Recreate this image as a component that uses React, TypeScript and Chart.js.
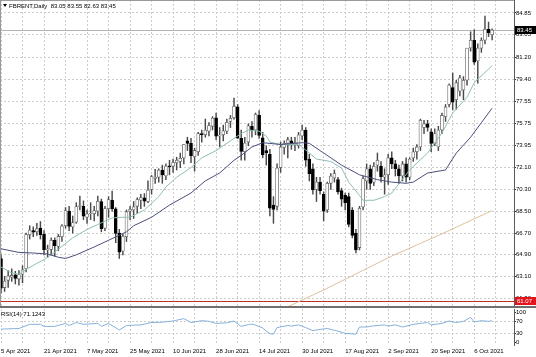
import React, { useEffect, useRef } from 'react';
import { Chart, registerables } from 'chart.js';

Chart.register(...registerables);

const FONT = '"Liberation Sans", Arial, sans-serif';

// ---- categories / tick labels ----
const dateLabels = ['5 Apr 2021', '21 Apr 2021', '7 May 2021', '25 May 2021', '10 Jun 2021', '28 Jun 2021', '14 Jul 2021', '30 Jul 2021', '17 Aug 2021', '2 Sep 2021', '20 Sep 2021', '6 Oct 2021'];
const LABEL_EVERY = 12;
const GRID_EVERY = 6;
const priceTicks = [61.3, 63.1, 64.9, 66.7, 68.5, 70.3, 72.1, 73.95, 75.75, 77.55, 79.4, 81.2, 83.05, 84.85];
const rsiTicks = [0, 30, 70, 100];

// ---- daily OHLC (5 Apr 2021 .. 13 Oct 2021) ----
const opens = [64.6, 62.2, 62.8, 63.05, 63.25, 62.9, 63.3, 63.75, 66.55, 66.9, 66.8, 67.1, 66.6, 65.3, 65.35, 66.1, 65.6, 66.4, 67.3, 68.5, 67.2, 67.6, 68.9, 68.9, 68.0, 68.3, 68.3, 68.5, 69.3, 67.1, 68.7, 69.4, 68.7, 66.7, 65.2, 66.4, 68.5, 68.6, 68.9, 69.4, 69.6, 69.3, 70.3, 71.2, 71.3, 71.9, 71.4, 72.25, 72.2, 72.5, 72.6, 72.9, 74.3, 74.1, 73.0, 73.4, 74.9, 74.8, 75.1, 75.5, 76.2, 74.7, 74.8, 75.1, 75.9, 76.2, 77.1, 74.5, 73.4, 74.2, 75.5, 75.2, 76.4, 74.55, 73.5, 73.2, 69.0, 68.9, 72.1, 73.75, 74.1, 74.3, 74.0, 73.9, 74.7, 75.2, 72.8, 72.0, 70.3, 70.9, 69.9, 68.6, 70.8, 71.25, 71.1, 70.2, 69.8, 69.7, 68.6, 66.7, 65.5, 68.85, 71.0, 72.0, 70.9, 72.3, 72.2, 71.3, 71.5, 72.9, 72.4, 72.0, 71.4, 72.4, 71.3, 72.9, 73.4, 73.8, 75.4, 75.7, 75.05, 74.1, 73.8, 75.2, 76.3, 77.3, 78.7, 77.7, 78.4, 78.5, 79.3, 81.96, 82.6, 80.9, 81.95, 82.6, 83.5, 83.05];
const highs = [64.92, 63.12, 63.6, 63.75, 63.55, 63.6, 64.0, 66.7, 67.3, 67.2, 67.5, 67.65, 66.9, 65.7, 66.3, 66.3, 66.6, 67.4, 68.8, 68.9, 68.1, 69.2, 69.75, 69.35, 68.6, 69.2, 68.9, 69.75, 69.5, 68.9, 69.7, 70.15, 68.8, 67.0, 66.6, 68.6, 68.9, 69.3, 69.6, 69.9, 69.95, 71.0, 71.45, 71.95, 72.0, 72.3, 72.4, 72.7, 72.8, 72.95, 73.3, 74.0, 74.6, 74.5, 73.7, 75.0, 75.2, 76.1, 75.8, 76.3, 76.6, 75.4, 75.6, 76.1, 76.4, 77.84, 77.3, 75.2, 74.6, 75.7, 75.9, 76.6, 76.8, 75.0, 73.9, 73.6, 69.7, 72.4, 74.2, 74.3, 74.6, 74.6, 74.6, 75.0, 75.6, 75.4, 73.2, 72.4, 71.3, 71.3, 70.1, 70.9, 71.6, 71.9, 71.3, 70.4, 70.0, 70.0, 68.8, 67.0, 68.9, 71.4, 72.4, 72.3, 72.5, 73.3, 72.6, 72.0, 73.2, 73.4, 72.7, 72.3, 72.6, 72.9, 72.9, 73.7, 74.0, 76.1, 76.0, 76.0, 75.3, 75.3, 75.5, 76.6, 77.3, 79.0, 79.9, 79.3, 79.7, 79.6, 81.5, 83.3, 83.45, 82.3, 82.8, 84.6, 84.1, 83.55];
const lows = [61.75, 61.88, 62.22, 62.7, 62.5, 62.4, 62.6, 63.5, 66.2, 66.4, 66.5, 66.2, 64.9, 64.7, 64.9, 64.8, 65.25, 66.0, 67.1, 66.9, 66.7, 67.5, 68.6, 67.8, 67.5, 67.8, 67.7, 68.1, 66.8, 66.9, 68.0, 68.5, 65.9, 64.6, 64.9, 66.0, 67.8, 67.9, 68.3, 68.7, 68.9, 69.2, 69.9, 70.8, 70.9, 70.8, 71.1, 71.5, 71.7, 71.9, 72.1, 72.4, 73.5, 72.5, 71.8, 73.1, 74.2, 74.6, 74.7, 75.2, 74.4, 73.8, 74.3, 74.9, 75.4, 76.1, 74.5, 72.7, 72.7, 73.9, 74.6, 74.8, 74.5, 72.9, 72.3, 68.1, 67.5, 68.6, 71.7, 73.2, 72.9, 73.6, 73.5, 73.7, 74.4, 72.2, 71.0, 69.9, 69.3, 69.9, 67.7, 68.4, 70.3, 70.9, 69.9, 68.9, 68.6, 67.2, 66.3, 65.05, 65.3, 68.6, 70.3, 70.3, 70.6, 71.8, 70.9, 69.9, 70.7, 72.0, 71.4, 70.8, 71.0, 70.9, 71.1, 72.6, 72.8, 73.5, 74.9, 75.1, 73.4, 73.9, 73.5, 74.9, 75.9, 77.1, 76.85, 76.9, 78.0, 77.7, 78.9, 81.7, 80.6, 79.05, 81.6, 82.3, 82.9, 82.63];
const closes = [62.15, 62.74, 63.16, 63.2, 62.95, 63.28, 63.67, 66.58, 66.94, 66.77, 67.05, 66.57, 65.32, 65.4, 66.11, 65.65, 66.42, 67.27, 68.56, 67.25, 67.56, 68.88, 68.96, 68.09, 68.28, 68.32, 68.55, 69.32, 67.05, 68.71, 69.46, 68.71, 66.66, 65.11, 66.44, 68.46, 68.65, 68.87, 69.46, 69.63, 69.32, 70.25, 71.35, 71.31, 71.89, 71.49, 72.22, 72.15, 72.52, 72.69, 72.86, 73.99, 74.1, 73.08, 73.51, 74.9, 74.81, 75.19, 75.56, 76.18, 74.68, 74.76, 75.13, 75.84, 76.17, 77.16, 74.53, 73.43, 74.12, 75.55, 75.16, 76.49, 74.76, 73.15, 73.3, 68.75, 68.65, 72.05, 73.8, 74.1, 74.4, 74.1, 74.15, 74.8, 75.2, 72.7, 71.6, 70.25, 70.9, 70.2, 68.5, 70.8, 71.4, 71.6, 70.1, 69.5, 69.2, 67.4, 66.5, 65.3, 68.75, 71.2, 72.0, 70.8, 72.2, 72.7, 71.35, 71.5, 72.9, 72.4, 72.0, 71.4, 72.4, 71.3, 72.8, 73.4, 73.8, 76.0, 75.7, 75.4, 74.1, 74.9, 75.2, 76.4, 77.1, 78.9, 77.5, 79.1, 79.5, 79.3, 81.96, 82.6, 80.8, 81.95, 82.6, 83.5, 83.2, 83.45];

// ---- indicator lines (bar index -> value) ----
const maFastBars = [0, 3, 5, 7, 10, 12, 14, 17, 20, 24, 27, 31, 34, 36, 40, 44, 46, 49, 53, 56, 60, 64, 67, 69, 72, 74, 75, 78, 83, 85, 88, 92, 95, 97, 100, 101, 104, 107, 109, 114, 119, 123, 126, 130, 132, 137];
const maFastValues = [63.9, 63.4, 63.3, 63.7, 64.2, 64.5, 64.9, 65.6, 66.3, 67.0, 67.4, 67.95, 68.0, 68.0, 68.6, 69.7, 70.5, 71.3, 72.1, 72.9, 73.5, 74.3, 74.9, 75.2, 75.1, 74.7, 74.2, 74.0, 74.0, 73.55, 72.8, 72.6, 72.05, 70.9, 69.8, 69.4, 69.4, 69.7, 70.0, 71.9, 73.3, 74.95, 76.6, 77.9, 79.1, 80.5];
const maSlowBars = [0, 5, 9, 13, 16, 18, 21, 26, 30, 35, 37, 42, 47, 53, 57, 61, 65, 67, 70, 73, 78, 84, 86, 90, 95, 100, 105, 109, 113, 115, 119, 124, 127, 131, 134, 137];
const maSlowValues = [65.4, 65.1, 65.05, 64.97, 64.7, 64.6, 64.9, 65.55, 66.1, 66.8, 67.3, 68.0, 69.0, 70.0, 71.0, 71.65, 72.7, 73.1, 73.8, 74.15, 74.0, 74.15, 74.1, 73.3, 72.3, 71.5, 71.1, 70.9, 70.8, 70.9, 71.65, 71.9, 73.3, 74.6, 75.8, 77.0];
const maLongBars = [75, 80, 90, 109, 122, 137];
const maLongValues = [60.0, 60.62, 62.0, 64.8, 66.5, 68.55];
const rsiBars = [0, 5, 8, 11, 12, 15, 18, 19, 21, 23, 27, 28, 30, 33, 35, 39, 42, 45, 48, 51, 53, 56, 58, 60, 63, 65, 67, 69, 70, 71, 73, 74, 75, 76, 77, 80, 81, 83, 85, 87, 89, 91, 94, 96, 99, 100, 102, 104, 107, 108, 110, 112, 115, 117, 119, 120, 123, 125, 127, 129, 131, 132, 134, 136, 137];
const rsiValues = [43, 45, 59, 59, 52, 52, 62, 55, 65, 59, 62, 52, 62, 40, 55, 57, 65, 66, 70, 78, 65, 71, 69, 62, 64, 70, 52, 58, 60, 56, 47, 36, 28, 26, 48, 55, 53, 57, 48, 38, 42, 45, 36, 29, 26, 50, 50, 54, 57, 53, 57, 50, 59, 62, 65, 57, 62, 70, 65, 69, 82, 67, 71, 69, 71];

const lastPrice = 83.45;
const alertLevel = 61.07;
const headerText = 'FBRENT,Daily  83.05 83.55 82.63 83.45';
const rsiText = 'RSI(14) 71.1243';

// ---- view ranges ----
const X_MIN = -0.28;
const X_MAX = 143.1;
const P_MIN = 60.68;
const P_MAX = 85.92;
const R_MIN = -10;
const R_MAX = 110;

const GRID_COLOR = '#cdcdcd';
const AXIS_COLOR = '#5a5a5a';

function xTicks() {
  const t: { value: number }[] = [];
  for (let v = 0; v <= X_MAX; v += GRID_EVERY) t.push({ value: v });
  return t;
}

function xScale(showLabels: boolean) {
  return {
    type: 'linear',
    min: X_MIN,
    max: X_MAX,
    offset: false,
    afterBuildTicks: (s: any) => { s.ticks = xTicks(); },
    afterFit: (s: any) => { s.height = showLabels ? 12 : 0; s.paddingLeft = 0; s.paddingRight = 0; },
    grid: { color: GRID_COLOR, lineWidth: 1, drawTicks: false, offset: false },
    border: { display: false, dash: [2, 2] },
    ticks: {
      display: showLabels,
      autoSkip: false,
      maxRotation: 0,
      minRotation: 0,
      align: 'start',
      padding: 3,
      color: '#000',
      font: { family: FONT, size: 6 },
      callback: (v: number) => (v % LABEL_EVERY === 0 ? dateLabels[v / LABEL_EVERY] || '' : ''),
    },
  };
}

function yAxisCommon(ticks: number[], min: number, max: number, fmt: (v: number) => string, gridColor: any) {
  return {
    type: 'linear',
    position: 'right',
    min,
    max,
    afterBuildTicks: (s: any) => { s.ticks = ticks.map((v) => ({ value: v })); },
    afterFit: (s: any) => { s.width = 22; s.paddingTop = 0; s.paddingBottom = 0; },
    grid: { color: gridColor, lineWidth: 1, drawTicks: true, tickLength: 2, tickColor: '#333', tickBorderDash: [] },
    border: { display: true, color: AXIS_COLOR, width: 1, dash: [2, 2] },
    ticks: { padding: 0, color: '#000', font: { family: FONT, size: 6 }, callback: (v: number) => fmt(v) },
  };
}

function valueBox(ctx: CanvasRenderingContext2D, x: number, y: number, w: number, bg: string, text: string) {
  ctx.fillStyle = bg;
  ctx.fillRect(x, Math.round(y) - 4, w, 8);
  ctx.fillStyle = '#fff';
  ctx.font = `6px ${FONT}`;
  ctx.textBaseline = 'middle';
  ctx.textAlign = 'left';
  ctx.fillText(text, x + 2, Math.round(y) + 0.5);
}

const mainOverlay = {
  id: 'mainOverlay',
  beforeDatasetsDraw(chart: any) {
    const { ctx, chartArea, scales } = chart;
    const ys = scales.y;
    ctx.save();
    ctx.lineWidth = 1;
    const yb = Math.round(ys.getPixelForValue(lastPrice)) + 0.5;
    ctx.strokeStyle = '#b4b4b4';
    ctx.beginPath();
    ctx.moveTo(chartArea.left, yb);
    ctx.lineTo(chartArea.right, yb);
    ctx.stroke();
    const yr = Math.round(ys.getPixelForValue(alertLevel)) + 0.5;
    ctx.strokeStyle = '#c0302a';
    ctx.beginPath();
    ctx.moveTo(chartArea.left, yr);
    ctx.lineTo(chartArea.right, yr);
    ctx.stroke();
    ctx.restore();
  },
  afterDraw(chart: any) {
    const { ctx, chartArea, scales } = chart;
    const ys = scales.y;
    ctx.save();
    valueBox(ctx, chartArea.right + 1, ys.getPixelForValue(lastPrice), 21, '#000', lastPrice.toFixed(2));
    valueBox(ctx, chartArea.right + 1, ys.getPixelForValue(alertLevel), 21, '#e3121b', alertLevel.toFixed(2));
    // frame
    ctx.strokeStyle = '#9a9a9a';
    ctx.lineWidth = 1;
    ctx.beginPath();
    ctx.moveTo(0, 0.5);
    ctx.lineTo(chartArea.right, 0.5);
    ctx.moveTo(0.5, 0);
    ctx.lineTo(0.5, chartArea.bottom);
    ctx.stroke();
    // header
    ctx.fillStyle = '#000';
    ctx.beginPath();
    ctx.moveTo(3, 4);
    ctx.lineTo(7, 4);
    ctx.lineTo(5, 7);
    ctx.closePath();
    ctx.fill();
    ctx.font = `6px ${FONT}`;
    ctx.textBaseline = 'middle';
    ctx.textAlign = 'left';
    ctx.fillText(headerText, 9, 6);
    ctx.restore();
  },
};

const rsiOverlay = {
  id: 'rsiOverlay',
  afterDraw(chart: any) {
    const { ctx } = chart;
    ctx.save();
    ctx.fillStyle = '#6f6f6f';
    ctx.fillRect(0, 0, chart.width, 2);
    ctx.fillStyle = '#000';
    ctx.font = `6px ${FONT}`;
    ctx.textBaseline = 'middle';
    ctx.textAlign = 'left';
    ctx.fillText(rsiText, 1, 8);
    ctx.restore();
  },
};

function mainConfig(): any {
  const bars = opens.map((_, i) => i);
  const bull = (i: number) => closes[i] >= opens[i];
  return {
    type: 'bar',
    data: {
      datasets: [
        {
          type: 'line', label: 'MA long',
          data: maLongBars.map((b, k) => ({ x: b, y: maLongValues[k] })),
          borderColor: '#dcc09a', borderWidth: 1, pointRadius: 0, order: 1,
        },
        {
          type: 'line', label: 'MA slow',
          data: maSlowBars.map((b, k) => ({ x: b, y: maSlowValues[k] })),
          borderColor: '#4c4f7c', borderWidth: 1, pointRadius: 0, order: 1,
        },
        {
          type: 'line', label: 'MA fast',
          data: maFastBars.map((b, k) => ({ x: b, y: maFastValues[k] })),
          borderColor: '#8fbdb5', borderWidth: 1, pointRadius: 0, order: 1,
        },
        {
          type: 'bar', label: 'wick',
          data: bars.map((i) => ({ x: i, y: [lows[i], highs[i]] })),
          backgroundColor: '#4a4a4a', borderWidth: 0, barThickness: 0.8, grouped: false, order: 3,
        },
        {
          type: 'bar', label: 'body',
          data: bars.map((i) => ({ x: i, y: [opens[i], closes[i]] })),
          backgroundColor: bars.map((i) => (bull(i) ? '#ffffff' : '#000000')),
          borderColor: bars.map((i) => (bull(i) ? '#6a6a6a' : '#000000')),
          borderWidth: 0.8, borderSkipped: false, barThickness: 3, grouped: false, order: 2,
        },
      ],
    },
    options: {
      responsive: false,
      animation: false,
      devicePixelRatio: 1,
      events: [],
      layout: { padding: 0 },
      plugins: { legend: { display: false }, tooltip: { enabled: false } },
      scales: {
        x: xScale(false),
        y: yAxisCommon(priceTicks, P_MIN, P_MAX, (v) => v.toFixed(2), GRID_COLOR),
      },
    },
    plugins: [mainOverlay],
  };
}

function rsiConfig(): any {
  return {
    type: 'line',
    data: {
      datasets: [
        {
          label: 'RSI',
          data: rsiBars.map((b, k) => ({ x: b, y: rsiValues[k] })),
          borderColor: '#86b0dc', borderWidth: 1, pointRadius: 0,
        },
      ],
    },
    options: {
      responsive: false,
      animation: false,
      devicePixelRatio: 1,
      events: [],
      layout: { padding: { top: 3, left: 0, right: 0, bottom: 0 } },
      plugins: { legend: { display: false }, tooltip: { enabled: false } },
      scales: {
        x: xScale(true),
        y: yAxisCommon(rsiTicks, R_MIN, R_MAX, (v) => String(v), (c: any) => (c.tick && (c.tick.value === 70 || c.tick.value === 30) ? GRID_COLOR : 'rgba(0,0,0,0)')),
      },
    },
    plugins: [rsiOverlay],
  };
}

export default function App() {
  const mainRef = useRef<HTMLCanvasElement>(null);
  const rsiRef = useRef<HTMLCanvasElement>(null);
  useEffect(() => {
    const c1 = new Chart(mainRef.current as HTMLCanvasElement, mainConfig());
    const c2 = new Chart(rsiRef.current as HTMLCanvasElement, rsiConfig());
    return () => {
      c1.destroy();
      c2.destroy();
    };
  }, []);
  return (
    <div style={{ position: 'fixed', left: 0, top: 0, width: 536, height: 357, background: '#fff', overflow: 'hidden' }}>
      <canvas ref={mainRef} width={536} height={306} style={{ position: 'absolute', left: 0, top: 0, width: 536, height: 306 }} />
      <canvas ref={rsiRef} width={536} height={51} style={{ position: 'absolute', left: 0, top: 306, width: 536, height: 51 }} />
    </div>
  );
}
